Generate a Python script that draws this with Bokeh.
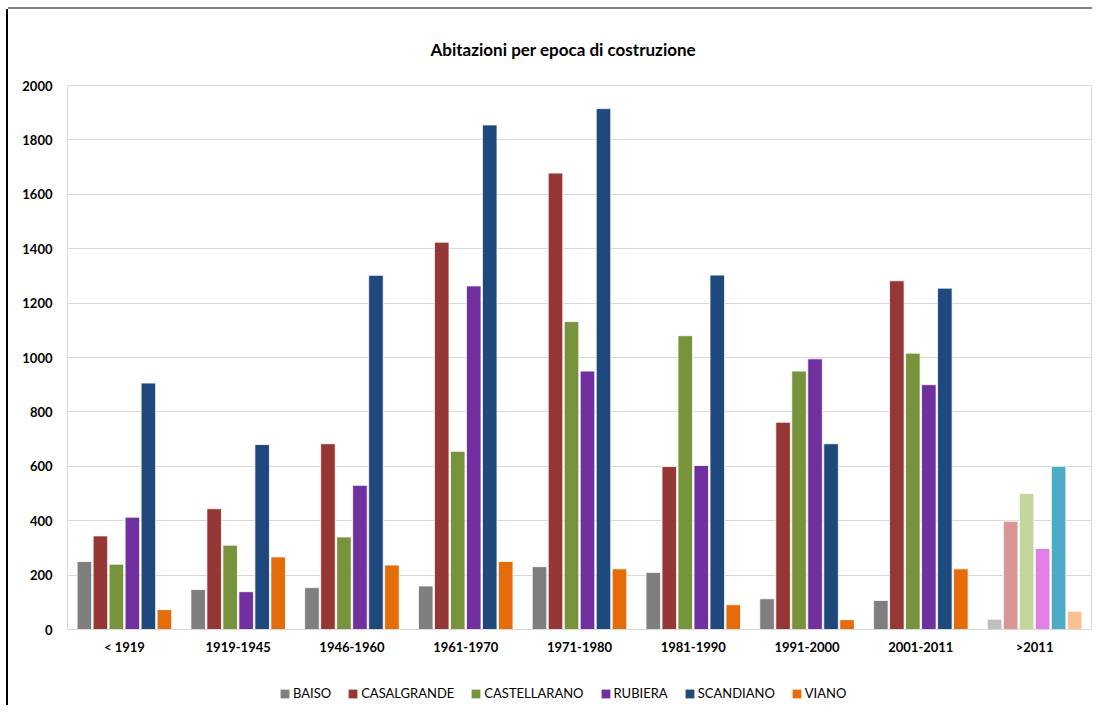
from bokeh.plotting import figure
from bokeh.models import ColumnDataSource, FactorRange, Legend, LegendItem, FixedTicker
from bokeh.layouts import column
from bokeh.transform import dodge
from bokeh.embed import file_html
from bokeh.resources import INLINE

periods = ["< 1919", "1919-1945", "1946-1960", "1961-1970", "1971-1980",
           "1981-1990", "1991-2000", "2001-2011", ">2011"]
series_names = ["BAISO", "CASALGRANDE", "CASTELLARANO", "RUBIERA", "SCANDIANO", "VIANO"]
baiso = [250, 147, 154, 160, 231, 210, 113, 107, 38]
casalgrande = [344, 444, 683, 1424, 1678, 599, 762, 1282, 398]
castellarano = [240, 310, 340, 655, 1132, 1080, 950, 1016, 500]
rubiera = [413, 139, 530, 1263, 950, 603, 995, 900, 298]
scandiano = [906, 680, 1302, 1855, 1915, 1303, 683, 1255, 600]
viano = [73, 267, 237, 250, 223, 91, 36, 223, 67]
series_values = [baiso, casalgrande, castellarano, rubiera, scandiano, viano]
colors = ["#7f7f7f", "#953735", "#77933c", "#7030a0", "#1f497d", "#e46c0a"]
colors_recent = ["#bfbfbf", "#d99694", "#c3d69b", "#df80e6", "#4bacc6", "#fac090"]
y_ticks = [0, 200, 400, 600, 800, 1000, 1200, 1400, 1600, 1800, 2000]
title_text = "Abitazioni per epoca di costruzione"

FONT = "Lato"

p = figure(x_range=FactorRange(*periods, range_padding=0), y_range=(0, 2000),
           width=1084, height=656, output_backend="svg", toolbar_location=None,
           min_border_left=59, min_border_right=1, min_border_top=76, min_border_bottom=36)

p.title.text = title_text
p.title.align = "left"
p.title.offset = 363
p.title.text_font = FONT
p.title.text_font_size = "17px"
p.title.text_font_style = "bold"
p.title.text_color = "#000000"
p.title.standoff = 52

pitch = 0.1406
for i, (name, vals) in enumerate(zip(series_names, series_values)):
    cols = [colors[i]] * (len(periods) - 1) + [colors_recent[i]]
    src = ColumnDataSource(dict(period=periods, value=vals, color=cols))
    p.vbar(x=dodge("period", (i - 2.5) * pitch, range=p.x_range), top="value",
           width=0.128, source=src, fill_color="color", line_color="white",
           line_width=0.8)

p.xgrid.grid_line_color = None
p.ygrid.grid_line_color = "#d9d9d9"
p.ygrid.ticker = FixedTicker(ticks=y_ticks)
p.yaxis.ticker = FixedTicker(ticks=y_ticks)
p.outline_line_color = "#d9d9d9"

for ax in (p.xaxis, p.yaxis):
    ax.major_tick_line_color = None
    ax.minor_tick_line_color = None
    ax.major_label_text_font = FONT
    ax.major_label_text_font_size = "13px"
    ax.major_label_text_font_style = "bold"
    ax.major_label_text_color = "#000000"
p.yaxis.axis_line_color = None
p.yaxis.major_label_standoff = 9
p.xaxis.axis_line_color = "#d9d9d9"
p.xaxis.major_label_standoff = 3

# legend strip
lg = figure(width=1084, height=40, output_backend="svg", toolbar_location=None,
            x_range=(0, 1), y_range=(0, 1), min_border=0)
lg.axis.visible = False
lg.grid.visible = False
lg.outline_line_color = None
items = []
for i, name in enumerate(series_names):
    r = lg.vbar(x=[-5], top=[-5], width=0.1, fill_color=colors[i], line_color=None)
    items.append(LegendItem(label=name, renderers=[r]))
legend = Legend(items=items, orientation="horizontal", location=(212, 4),
                border_line_color=None, background_fill_alpha=0,
                glyph_width=11, glyph_height=11, label_standoff=3, spacing=16,
                label_text_font=FONT, label_text_font_size="13px",
                label_text_color="#000000", padding=0, margin=0)
lg.add_layout(legend, "center")

layout = column(p, lg, spacing=0,
                styles={"margin-left": "8px", "margin-top": "9px",
                        "box-shadow": "-2px 0 0 0 #000000, 0 -2px 0 0 #808080"})
open("out.html", "w").write(file_html(layout, INLINE))
